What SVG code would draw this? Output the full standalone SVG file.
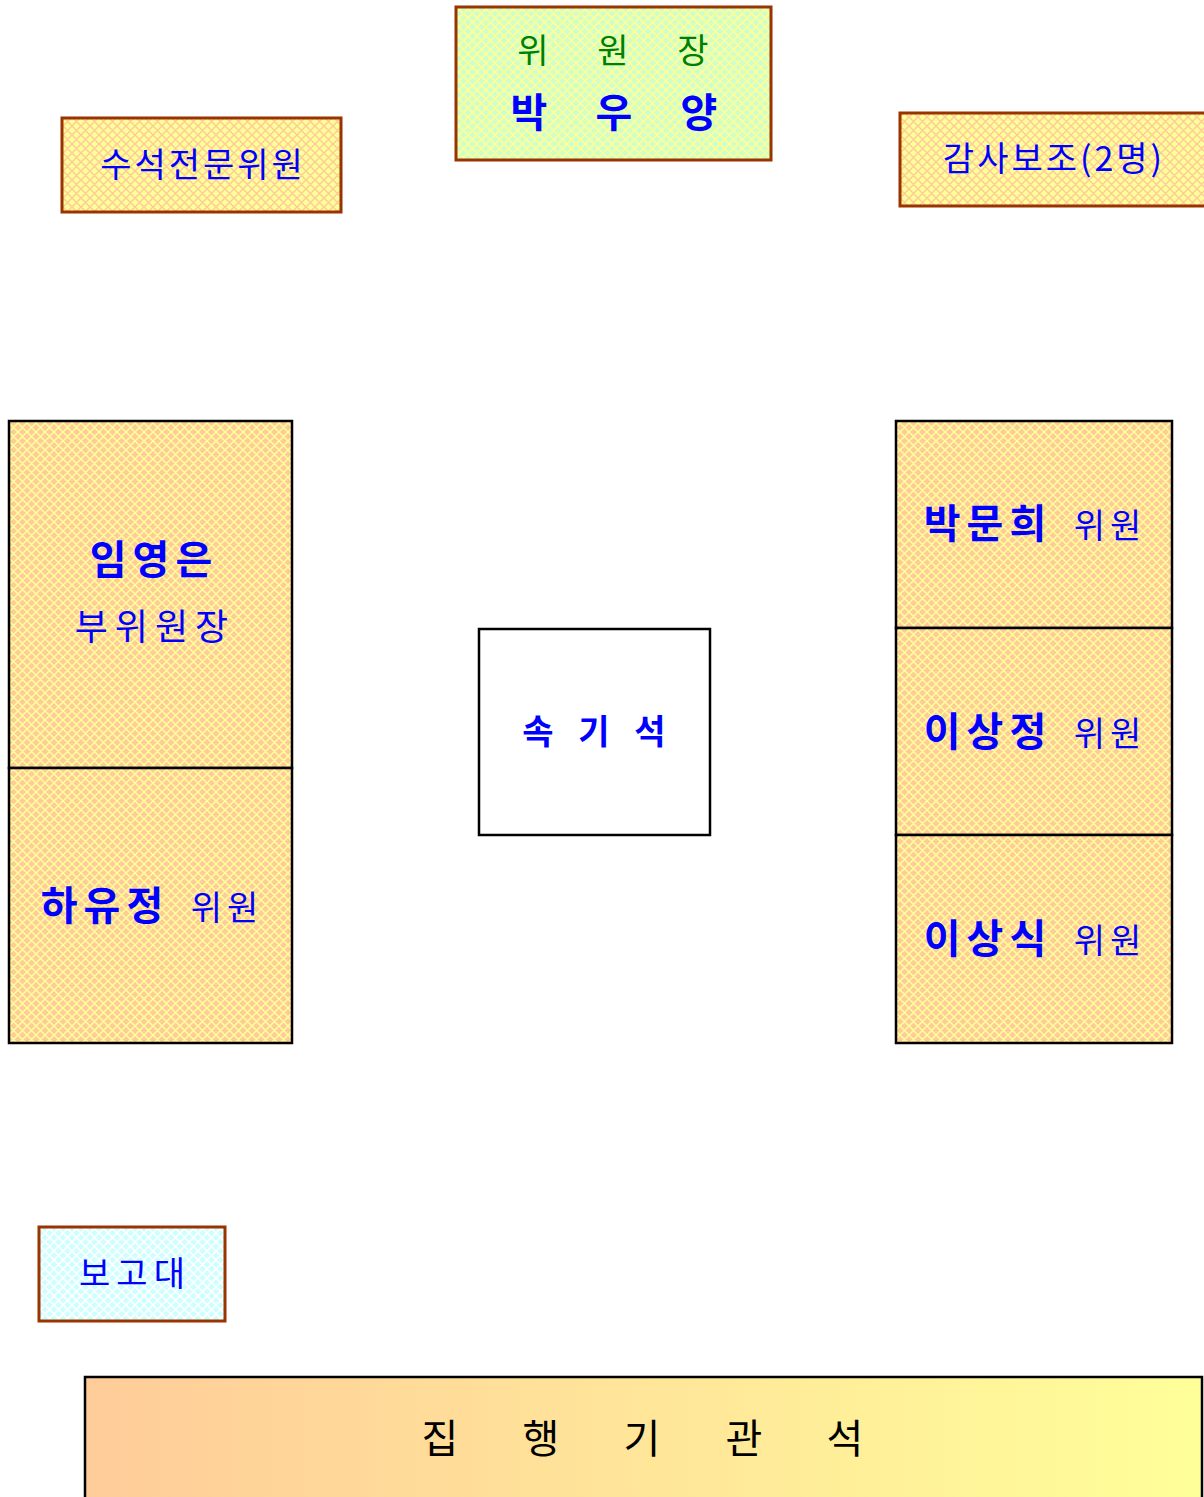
<svg xmlns="http://www.w3.org/2000/svg" width="1204" height="1497" viewBox="0 0 1204 1497">
<style>
text{font-family:"Noto Sans CJK KR","Noto Sans",sans-serif;text-anchor:middle}
.blue{fill:#0000ff}
.bold{font-weight:bold}
.brown{stroke:#993300;stroke-width:3}
.blk{stroke:#000;stroke-width:2.5}
.name{font-size:40px;font-weight:bold;letter-spacing:6px}
.memb{font-size:34px;letter-spacing:5px}
</style>
<defs>
<path id="hatch" d="M-2 -2L11 11M-2 7L2 11M7 -2L11 2M-2 11L11 -2M-2 2L2 -2M7 11L11 7"/>
<pattern id="pGreen" width="9" height="9" patternUnits="userSpaceOnUse">
<rect width="9" height="9" fill="#ccffcc"/>
<use href="#hatch" stroke="#ffff99" stroke-width="1.6"/>
</pattern>
<pattern id="pYellow" width="9" height="9" patternUnits="userSpaceOnUse">
<rect width="9" height="9" fill="#ffff99"/>
<use href="#hatch" stroke="#ffcc99" stroke-width="1.5"/>
</pattern>
<pattern id="pPeach" width="9" height="9" patternUnits="userSpaceOnUse">
<rect width="9" height="9" fill="#ffcc99"/>
<use href="#hatch" stroke="#ffff99" stroke-width="1.5"/>
</pattern>
<pattern id="pCyan" width="9" height="9" patternUnits="userSpaceOnUse">
<rect width="9" height="9" fill="#ccffff"/>
<use href="#hatch" stroke="#ffffff" stroke-width="1.6"/>
</pattern>
<linearGradient id="gExec" x1="0" y1="0" x2="1" y2="0">
<stop offset="0" stop-color="#ffcc99"/>
<stop offset="1" stop-color="#ffff99"/>
</linearGradient>
</defs>
<rect width="1204" height="1497" fill="#fff"/>

<g id="chair">
<rect x="456" y="7" width="315" height="153" fill="url(#pGreen)" class="brown"/>
<text y="63" font-size="34" fill="#008000"><tspan x="533">위</tspan><tspan x="613">원</tspan><tspan x="693">장</tspan></text>
<text y="127" font-size="40" class="blue bold"><tspan x="529">박</tspan><tspan x="614">우</tspan><tspan x="699">양</tspan></text>
</g>

<g id="chief">
<rect x="62" y="118" width="279" height="94" fill="url(#pYellow)" class="brown"/>
<text x="203" y="177" font-size="34" letter-spacing="3" class="blue">수석전문위원</text>
</g>

<g id="audit">
<rect x="900" y="113" width="306" height="93" fill="url(#pYellow)" class="brown"/>
<text x="1054" y="171" font-size="34" letter-spacing="3" class="blue">감사보조(2명)</text>
</g>

<g id="vice">
<rect x="9" y="421" width="283" height="347" fill="url(#pPeach)" class="blk"/>
<text x="154" y="574" class="blue name">임영은</text>
<text x="155" y="640" font-size="36" letter-spacing="7" class="blue">부위원장</text>
</g>

<g id="ha">
<rect x="9" y="768" width="283" height="275" fill="url(#pPeach)" class="blk"/>
<text x="105" y="920" class="blue name">하유정</text>
<text x="227" y="920" class="blue memb">위원</text>
</g>

<g id="park">
<rect x="896" y="421" width="276" height="207" fill="url(#pPeach)" class="blk"/>
<text x="988" y="538" class="blue name">박문희</text>
<text x="1110" y="538" class="blue memb">위원</text>
</g>

<g id="leesj">
<rect x="896" y="628" width="276" height="207" fill="url(#pPeach)" class="blk"/>
<text x="988" y="746" class="blue name">이상정</text>
<text x="1110" y="746" class="blue memb">위원</text>
</g>

<g id="leess">
<rect x="896" y="835" width="276" height="208" fill="url(#pPeach)" class="blk"/>
<text x="988" y="953" class="blue name">이상식</text>
<text x="1110" y="953" class="blue memb">위원</text>
</g>

<g id="steno">
<rect x="479" y="629" width="231" height="206" fill="#fff" class="blk"/>
<text y="744" font-size="34" class="blue bold"><tspan x="538">속</tspan><tspan x="594">기</tspan><tspan x="650">석</tspan></text>
</g>

<g id="podium">
<rect x="39" y="1227" width="186" height="94" fill="url(#pCyan)" class="brown"/>
<text x="135" y="1286" font-size="34" letter-spacing="6" class="blue">보고대</text>
</g>

<g id="exec">
<rect x="85" y="1377" width="1117" height="130" fill="url(#gExec)" class="blk"/>
<text y="1453" font-size="40" fill="#000"><tspan x="440">집</tspan><tspan x="541">행</tspan><tspan x="642">기</tspan><tspan x="744">관</tspan><tspan x="845">석</tspan></text>
</g>

<g id="connectors"></g>
</svg>
